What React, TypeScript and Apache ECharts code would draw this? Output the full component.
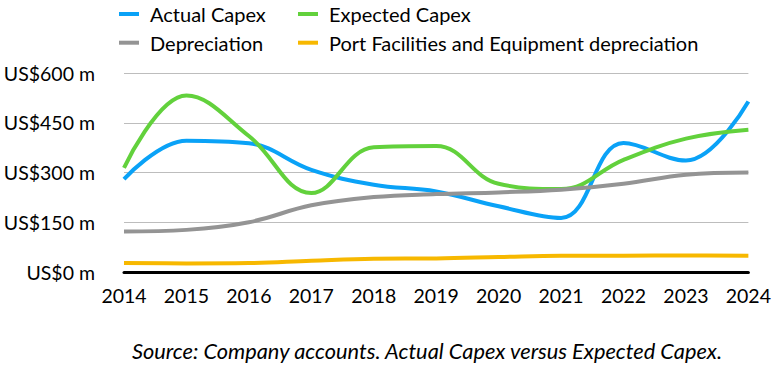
import React, { useEffect, useRef } from "react";
import * as echarts from "echarts";

const years = ["2014", "2015", "2016", "2017", "2018", "2019", "2020", "2021", "2022", "2023", "2024"];
const actualCapex = [280, 396, 388, 308, 263, 243, 198, 163, 389, 336, 514];
const expectedCapex = [314, 532, 410, 238, 376, 380, 266, 250, 338, 402, 429];
const depreciation = [122, 127, 150, 201, 226, 235, 240, 248, 266, 293, 300];
const portDepreciation = [27, 26, 27, 34, 40, 41, 45, 49, 49, 50, 49];
const yTicks = [0, 150, 300, 450, 600];

const FONT = "Lato, 'Noto Sans', sans-serif";

export default function App() {
  const ref = useRef<HTMLDivElement>(null);
  useEffect(() => {
    const chart = echarts.init(ref.current!, undefined, { renderer: "svg" });
    const mk = (name: string, data: number[], color: string) => ({
      name,
      type: "line",
      data,
      smooth: 0.4,
      symbol: "none",
      lineStyle: { color, width: 4 },
      itemStyle: { color },
    });
    const legendCommon = {
      orient: "vertical",
      top: 4,
      padding: 0,
      itemGap: 8.7,
      itemWidth: 20,
      itemHeight: 4,
      icon: "rect",
      textStyle: { fontSize: 20, color: "#000", fontFamily: FONT, padding: [0, 0, 0, 6] },
    };
    chart.setOption({
      animation: false,
      textStyle: { fontFamily: FONT },
      legend: [
        { ...legendCommon, left: 119, data: ["Actual Capex", "Depreciation"] },
        { ...legendCommon, left: 298, data: ["Expected Capex", "Port Facilities and Equipment depreciation"] },
      ],
      grid: { left: 124, right: 24, top: 73, bottom: 102, containLabel: false },
      xAxis: {
        type: "category",
        data: years,
        boundaryGap: false,
        axisTick: { show: false },
        axisLine: { lineStyle: { color: "#000", width: 3 } },
        axisLabel: { color: "#000", fontSize: 19.5, margin: 13, fontFamily: FONT },
        splitLine: { show: false },
      },
      yAxis: {
        type: "value",
        min: yTicks[0],
        max: yTicks[yTicks.length - 1],
        interval: 150,
        axisLine: { show: false },
        axisTick: { show: false },
        axisLabel: {
          color: "#000",
          fontSize: 19.5,
          margin: 29,
          fontFamily: FONT,
          formatter: (v: number) => `US$${v} m`,
        },
        splitLine: { lineStyle: { color: "#bdbdbd", width: 1 } },
      },
      graphic: [
        {
          type: "text",
          x: 427,
          y: 350,
          style: {
            text: "Source: Company accounts. Actual Capex versus Expected Capex.",
            fontSize: 21.8,
            fontStyle: "italic",
            fontFamily: FONT,
            fill: "#000",
            align: "center",
            verticalAlign: "middle",
          },
        },
      ],
      series: [
        mk("Actual Capex", actualCapex, "#0aa2f7"),
        mk("Expected Capex", expectedCapex, "#62d13c"),
        mk("Depreciation", depreciation, "#949494"),
        mk("Port Facilities and Equipment depreciation", portDepreciation, "#f7b800"),
      ],
    });
    return () => chart.dispose();
  }, []);
  return <div ref={ref} style={{ width: 774, height: 374, position: "absolute", left: 0, top: 0 }} />;
}
